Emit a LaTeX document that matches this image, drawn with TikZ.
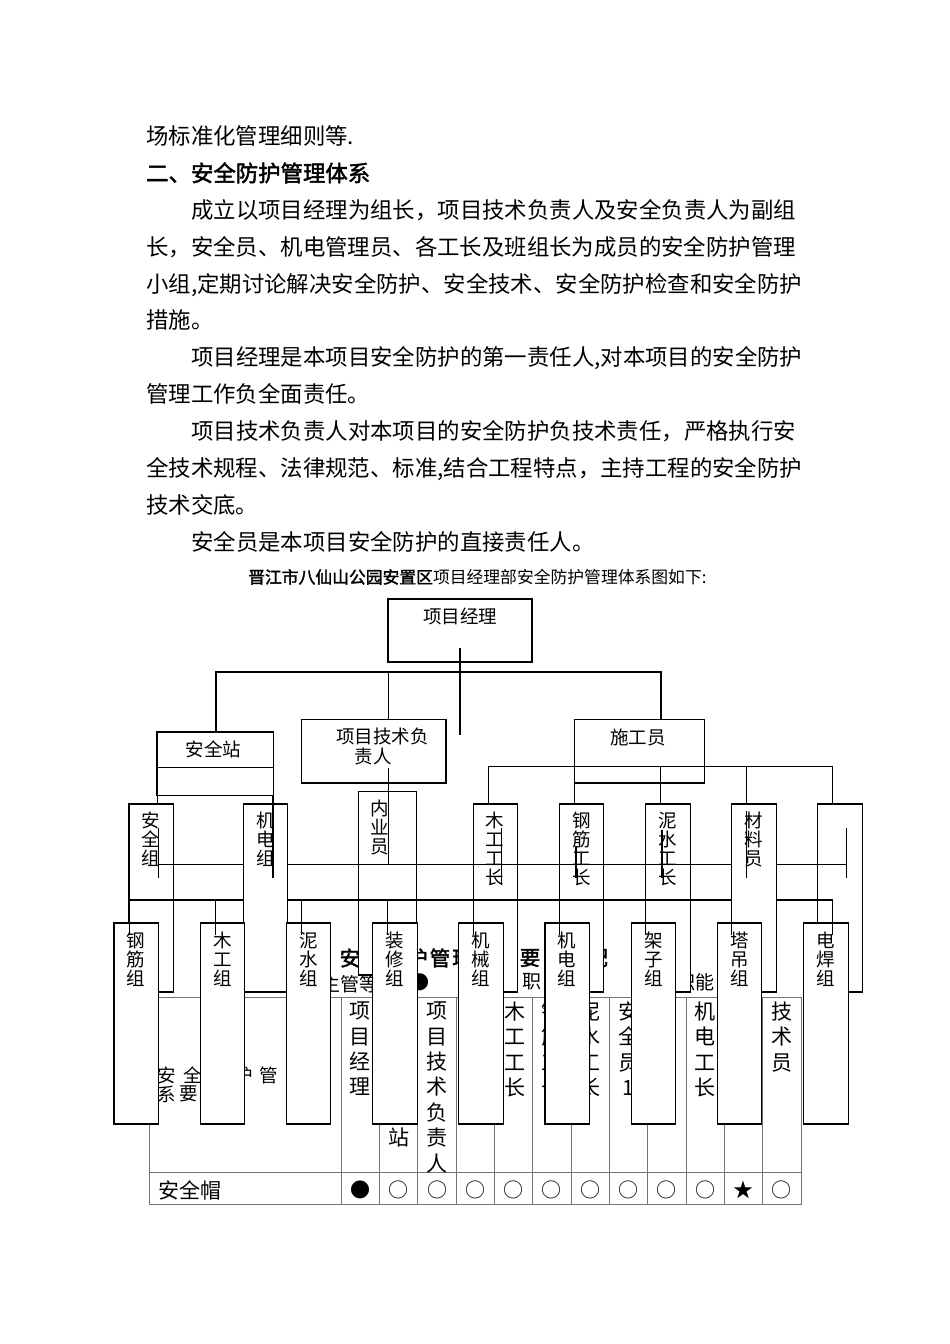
\documentclass[tikz,border=0pt]{standalone}
\usepackage{fontspec}
\newfontfamily\cjk{Noto Sans CJK SC}
\newfontfamily\cjkb[FakeBold=2]{Noto Sans CJK SC}
\XeTeXlinebreaklocale "zh"
\XeTeXlinebreakskip=0pt plus 4pt
\newcommand\mybox[5]{\pgfmathsetmacro\mybw{#4-(#2)}\pgfmathsetmacro\mybh{#5-(#3)}%
  \node[bx, anchor=north west, minimum width=\mybw pt, minimum height=\mybh pt] (#1) at (#2,#3) {};}
\tikzset{
  bx/.style={draw=black, fill=white, line width=1.1pt, inner sep=0pt, outer sep=0pt},
  cn/.style={draw=black, line width=1.1pt},
  tb/.style={draw=black!55, line width=0.9pt},
  body/.style={anchor=base west, inner sep=0pt, font=\cjk\fontsize{22.4}{26}\selectfont},
  lab/.style={inner sep=0pt, align=center, font=\cjk\fontsize{18.5}{19}\selectfont},
  vlab/.style={lab, anchor=north},
  th/.style={anchor=north, inner sep=0pt, align=center, font=\cjk\fontsize{21}{25.4}\selectfont},
  ttl/.style={inner sep=0pt, font=\cjkb\fontsize{20.5}{24}\selectfont},
  lgd/.style={inner sep=0pt, font=\cjk\fontsize{19}{22}\selectfont},
  cell/.style={inner sep=0pt, font=\cjk\fontsize{18.5}{20}\selectfont},
  symb/.style={inner sep=0pt, font=\cjk\fontsize{20}{22}\selectfont}
}
\begin{document}
\begin{tikzpicture}[x=1pt,y=-1pt]
\useasboundingbox (0,0) rectangle (950,1344);
\fill[white] (0,0) rectangle (950,1344);

% ---------- body text ----------
\node[body] (l0) at (146,144.5) {场标准化管理细则等.};
\node[body, font=\cjkb\fontsize{22.4}{26}\selectfont] (l1) at (146,181.5) {二、安全防护管理体系};
\node[body] (l2) at (191,218.5) {\hbox to 613pt{成立以项目经理为组长，项目技术负责人及安全负责人为副组}};
\node[body] (l3) at (146,255.5) {\hbox to 658pt{长，安全员、机电管理员、各工长及班组长为成员的安全防护管理}};
\node[body] (l4) at (146,292) {\hbox to 658pt{小组,定期讨论解决安全防护、安全技术、安全防护检查和安全防护}};
\node[body] (l5) at (146,328.5) {措施。};
\node[body] (l6) at (191,365.5) {\hbox to 613pt{项目经理是本项目安全防护的第一责任人,对本项目的安全防护}};
\node[body] (l7) at (146,402.5) {管理工作负全面责任。};
\node[body] (l8) at (191,439.5) {\hbox to 613pt{项目技术负责人对本项目的安全防护负技术责任，严格执行安}};
\node[body] (l9) at (146,476) {\hbox to 658pt{全技术规程、法律规范、标准,结合工程特点，主持工程的安全防护}};
\node[body] (l10) at (146,513) {技术交底。};
\node[body] (l11) at (191,550) {安全员是本项目安全防护的直接责任人。};
\node[anchor=base west, inner sep=0pt, font=\cjk\fontsize{16.8}{20}\selectfont] (cap) at (248,583.4)
  {{\cjkb 晋江市八仙山公园安置区}项目经理部安全防护管理体系图如下:};

% ---------- table title / legend ----------
\foreach \c/\x [count=\i] in {安/350, 护/417.5, 管/440, 理/462.5, 要/530, 配/597.5}
  \node[ttl] (ttl\i) at (\x,958) {\c};
\node[lgd] (lg1) at (350,984) {主管等};
\node[lgd] (lg2) at (419.5,982) {●};
\node[lgd] (lg3) at (531.7,982) {职};
\node[lgd] (lg4) at (695.5,982) {职能};

% ---------- table ----------
\draw[tb] (149.3,997.3) rectangle (801,1204);
\draw[tb] (149.3,1172.7) -- (801,1172.7);
\foreach \x in {341.3,379.6,417.9,456.2,494.5,532.8,571.1,609.4,647.7,686,724.3,762.6}
  \draw[tb] (\x,997.3) -- (\x,1204);
\foreach \c/\x/\y [count=\i] in {安/166.7/1075, 全/192.3/1075, 护/243.5/1075, 管/269.1/1075, 系/166.7/1094, 要/188.5/1094}
  \node[cell] (hc\i) at (\x,\y) {\c};
\node[th] (c1) at (360.4,1001.7) {项\\目\\经\\理};
\node[th, anchor=center] (c2) at (398.7,1137) {站};
\node[th] (c3) at (437,1001.7) {项\\目\\技\\术\\负\\责\\人};
\node[th] (c5) at (514.8,1001.7) {木\\工\\工\\长};
\node[th] (c6) at (552,1001.7) {钢\\筋\\工\\长};
\node[th] (c7) at (590.2,1001.7) {泥\\水\\工\\长};
\node[th] (c8) at (628.5,1001.7) {安\\全\\员\\1};
\node[th] (c10) at (705.2,1001.7) {机\\电\\工\\长};
\node[th] (c12) at (781.8,1001.7) {技\\术\\员};
\node[anchor=west, inner sep=0pt, font=\cjk\fontsize{21}{25}\selectfont] (hat) at (158,1190) {安全帽};
\foreach \x/\s [count=\i] in {360.45/●, 398.75/○, 437.05/○, 475.35/○, 513.65/○, 551.95/○, 590.25/○, 628.55/○, 666.85/○, 705.15/○, 743.45/★, 781.8/○}
  \node[symb] (s\i) at (\x,1190) {\s};

% ---------- upper level ----------
\mybox{pm}{388}{599}{532}{662}
\node[lab] (pmt) at (460,616.5) {项目经理};
\mybox{aqz}{157}{732}{273.5}{767.3}
\mybox{aqzb}{157}{767.3}{273.5}{795.5}
\node[lab] (aqzt) at (213.5,749.5) {安全站};
\mybox{js}{301.5}{719.3}{446}{783}
\node[lab] (jst1) at (382.5,736) {项目技术负};
\node[lab] (jst2) at (373,756) {责人};
\mybox{sg}{574.5}{719.3}{704.6}{783}
\node[lab] (sgt) at (638,737) {施工员};

\draw[cn] (216,732) -- (216,672) -- (661,672) -- (661,719.3);
\draw[cn] (388.3,672) -- (388.3,719.3);
\draw[cn] (488.3,766.7) -- (832.7,766.7);
\foreach \x in {488.3,574.3,660.7,746.7,832.7}
  \draw[cn] (\x,766.7) -- (\x,804);

% ---------- middle row (under the cross lines) ----------
\mybox{aqzu}{129}{804}{173.3}{992}
\node[vlab] (aqzut) at (150.5,811.7) {安\\全\\组};
\mybox{nyy}{358.7}{791.7}{416.7}{975}
\node[vlab] (nyyt) at (380,800) {内\\业\\员};
\mybox{mggz}{473.3}{804}{517.7}{992}
\node[vlab] (mggzt) at (495,811.7) {木\\工\\工\\长};
\mybox{gjgz}{559.5}{804}{603.9}{992}
\node[vlab] (gjgzt) at (582,811.7) {钢\\筋\\工\\长};
\mybox{nsgz}{645.7}{804}{690.1}{992}
\node[vlab] (nsgzt) at (668,811.7) {泥\\水\\工\\长};
\mybox{kong}{817.9}{804}{862.3}{992}

\draw[cn] (388.3,768) -- (388.3,864.3);
\draw[cn] (158.3,864.3) -- (846.7,864.3);
\draw[cn] (129.3,900) -- (832.7,900);

% ---------- middle row (over the cross lines) ----------
\mybox{jdzu}{243.7}{804}{287.9}{992}
\node[vlab] (jdzut) at (265.5,811.7) {机\\电\\组};
\mybox{cly}{731.8}{804}{776.2}{992}
\node[vlab] (clyt) at (754,811.7) {材\\料\\员};

% ---------- bottom row ----------
\mybox{b1}{114}{923}{158.5}{1124}
\node[vlab] (b1t) at (136.2,931.7) {钢\\筋\\组};
\mybox{b2}{200.2}{923}{244.7}{1124}
\node[vlab] (b2t) at (222.4,931.7) {木\\工\\组};
\mybox{b3}{286.4}{923}{330.9}{1124}
\node[vlab] (b3t) at (308.6,931.7) {泥\\水\\组};
\mybox{b4}{372.6}{923}{417.1}{1124}
\node[vlab] (b4t) at (394.8,931.7) {装\\修\\组};
\mybox{b5}{458.8}{923}{503.3}{1124}
\node[vlab] (b5t) at (481,931.7) {机\\械\\组};
\mybox{b6}{545}{923}{589.5}{1124}
\node[vlab] (b6t) at (567.2,931.7) {机\\电\\组};
\mybox{b7}{631.2}{923}{675.7}{1124}
\node[vlab] (b7t) at (653.4,931.7) {架\\子\\组};
\mybox{b8}{717.4}{923}{761.9}{1124}
\node[vlab] (b8t) at (739.6,931.7) {塔\\吊\\组};
\mybox{b9}{803.6}{923}{848.1}{1124}
\node[vlab] (b9t) at (825.8,931.7) {电\\焊\\组};

% ---------- lines drawn on top ----------
\foreach \x in {129.3,215.3,301.3,387.3,473.3,559.3,645.7,731.7,832.7}
  \draw[cn] (\x,900) -- (\x,935);
\draw[cn] (157.7,795.5) -- (157.7,804);
\draw[cn] (273,795.5) -- (273,877.7);
\draw[cn] (158.3,828) -- (158.3,877.7);
\draw[cn] (501.7,828) -- (501.7,885);
\draw[cn] (576,846) -- (576,877.7);
\draw[cn] (662,830) -- (662,877.7);
\draw[cn] (746.7,811) -- (746.7,877.7);
\draw[cn] (846.7,828) -- (846.7,877.7);
\draw[cn] (460,648) -- (460,735);
\end{tikzpicture}
\end{document}
